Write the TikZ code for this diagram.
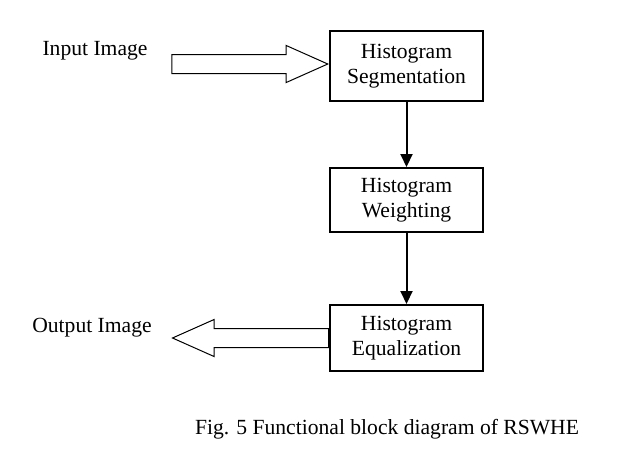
\documentclass[tikz,border=0pt]{standalone}
\usepackage{fontspec}
\setmainfont{Liberation Serif}
\usepackage{tikz}
\usetikzlibrary{arrows.meta, positioning, shapes.arrows}

\begin{document}
\begin{tikzpicture}[x=1pt, y=-1pt,
    font=\fontsize{21.6}{25}\selectfont,
    block/.style={draw, line width=2pt, minimum width=153pt, minimum height=70pt, align=center, inner sep=2pt},
    fatarrow/.style={single arrow, draw, line width=1pt, minimum height=156pt, minimum width=36pt, single arrow head extend=9pt, single arrow head indent=0pt, single arrow tip angle=48, inner xsep=0pt, inner ysep=9pt},
    flow/.style={draw, line width=2pt, -{Triangle[length=13pt, width=12pt]}}]

    \useasboundingbox (0,0) rectangle (617,459);

    \node at (406.5, 66) (seg) [block] {Histogram\\Segmentation};
    \node at (406.5, 200) (wgt) [block, minimum height=64pt] {Histogram\\Weighting};
    \node at (406.5, 338) (equ) [block, minimum height=66pt] {Histogram\\Equalization};

    \node at ([yshift=2pt]seg.west) (inarrow) [fatarrow, anchor=tip] {};
    \node at (equ.west) (outarrow) [fatarrow, shape border rotate=180, anchor=tail] {};

    \node at (95, 51) (inlabel) {Input Image};
    \node at (92, 328) (outlabel) {Output Image};

    \path[flow] (seg) -- (wgt);
    \path[flow] (wgt) -- (equ);

    \node at (387, 429) (caption) {Fig. 5 Functional block diagram of RSWHE};

\end{tikzpicture}
\end{document}
